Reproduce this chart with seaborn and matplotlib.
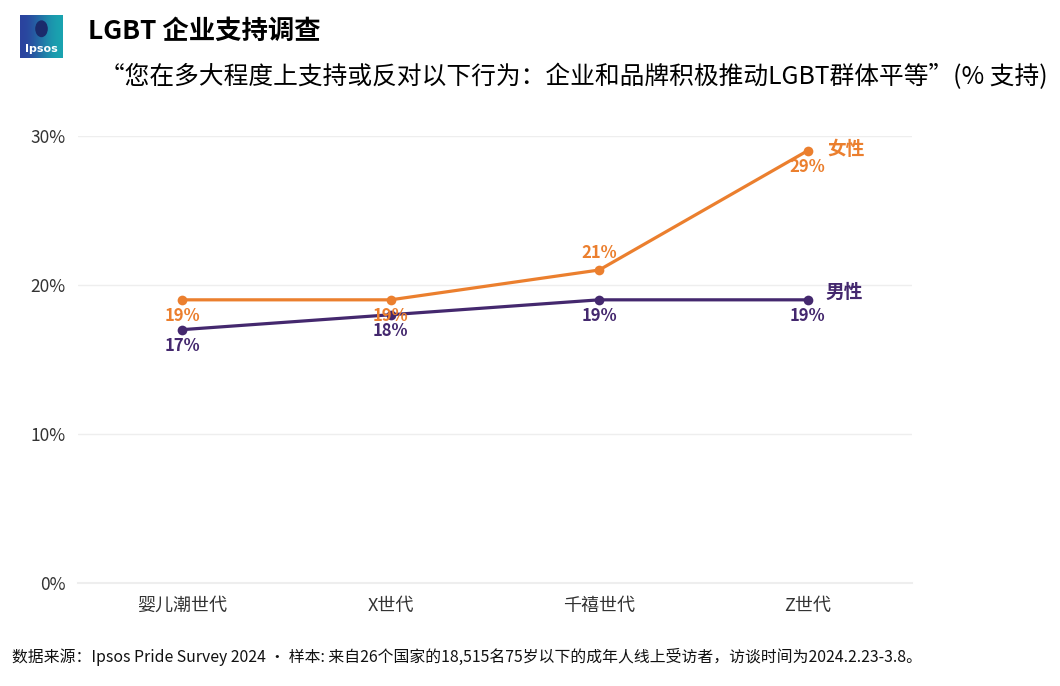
import matplotlib
matplotlib.use("Agg")
import matplotlib.pyplot as plt
import seaborn as sns
import pandas as pd
from matplotlib.patches import Ellipse

generations = ["婴儿潮世代", "X世代", "千禧世代", "Z世代"]
female = [19, 19, 21, 29]
male = [17, 18, 19, 19]
y_ticks = [0, 10, 20, 30]
y_tick_labels = ["0%", "10%", "20%", "30%"]

orange = "#EB7F2E"
purple = "#44286E"

sns.set_theme(style="white")
plt.rcParams["font.family"] = ["Noto Sans CJK SC", "DejaVu Sans"]

df = pd.DataFrame({
    "generation": generations * 2,
    "value": female + male,
    "gender": ["女性"] * 4 + ["男性"] * 4,
})
df["x"] = df["generation"].map({g: i for i, g in enumerate(generations)})

fig = plt.figure(figsize=(10.6, 6.86), dpi=100)
ax = fig.add_axes([0.0736, 0.150, 0.7866, 0.652])

sns.lineplot(data=df, x="x", y="value", hue="gender",
             palette={"女性": orange, "男性": purple},
             marker="o", markersize=7, markeredgewidth=0, linewidth=2.3,
             legend=False, ax=ax)

ax.set_xlim(-0.5, 3.5)
ax.set_ylim(0, 30)
ax.set_yticks(y_ticks)
ax.set_yticklabels(y_tick_labels, fontsize=12.5, color="#333333")
ax.set_xticks(range(len(generations)))
ax.set_xticklabels(generations, fontsize=13, color="#333333")
ax.tick_params(axis="x", length=0, pad=10)
ax.tick_params(axis="y", length=0, pad=9)
ax.set_xlabel("")
ax.set_ylabel("")
for v in y_ticks[1:]:
    ax.axhline(v, color="#EEEEEE", linewidth=1, zorder=0)
for s in ["top", "right", "left"]:
    ax.spines[s].set_visible(False)
ax.spines["bottom"].set_color("#EEEEEE")
ax.spines["bottom"].set_linewidth(1.5)

# data labels
for i, v in enumerate(female):
    if i == 2:
        ax.annotate(f"{v}%", (i, v), xytext=(0, 6), textcoords="offset points",
                    ha="center", va="bottom", fontsize=12, fontweight="bold", color=orange)
    else:
        ax.annotate(f"{v}%", (i, v), xytext=(0, -5), textcoords="offset points",
                    ha="center", va="top", fontsize=12, fontweight="bold", color=orange)
for i, v in enumerate(male):
    ax.annotate(f"{v}%", (i, v), xytext=(0, -5), textcoords="offset points",
                ha="center", va="top", fontsize=12, fontweight="bold", color=purple)

ax.annotate("女性", (3, female[-1]), xytext=(14, 1), textcoords="offset points",
            ha="left", va="center", fontsize=13.5, fontweight="bold", color=orange)
ax.annotate("男性", (3, male[-1]), xytext=(13, 5), textcoords="offset points",
            ha="left", va="center", fontsize=13.5, fontweight="bold", color=purple)

# logo
logo = fig.add_axes([20 / 1060, 1 - 58 / 686, 43 / 1060, 43 / 686])
logo.imshow([[0, 1], [0, 1]], cmap=matplotlib.colors.LinearSegmentedColormap.from_list(
    "ipsos", ["#2B3F9E", "#19A7B0"]), extent=(0, 1, 0, 1), interpolation="bicubic", aspect="auto")
logo.text(0.5, 0.2, "Ipsos", color="white", ha="center", va="center",
          fontsize=8, fontweight="bold", family=["DejaVu Sans"])
logo.add_patch(Ellipse((0.5, 0.68), 0.26, 0.36, color="#1B2A6B"))
logo.set_xlim(0, 1)
logo.set_ylim(0, 1)
logo.set_axis_off()

fig.text(88 / 1060, 1 - 31 / 686, "LGBT 企业支持调查", fontsize=19, fontweight="bold",
         color="black", va="center", ha="left")
fig.text(100 / 1060, 1 - 77 / 686,
         "“您在多大程度上支持或反对以下行为：企业和品牌积极推动LGBT群体平等”(% 支持)",
         fontsize=17.8, color="black", va="center", ha="left")
fig.text(12 / 1060, 1 - 657 / 686,
         "数据来源：Ipsos Pride Survey 2024 • 样本: 来自26个国家的18,515名75岁以下的成年人线上受访者，访谈时间为2024.2.23-3.8。",
         fontsize=11.4, color="#111111", va="center", ha="left")

fig.savefig("out.png", dpi=100, facecolor="white")
